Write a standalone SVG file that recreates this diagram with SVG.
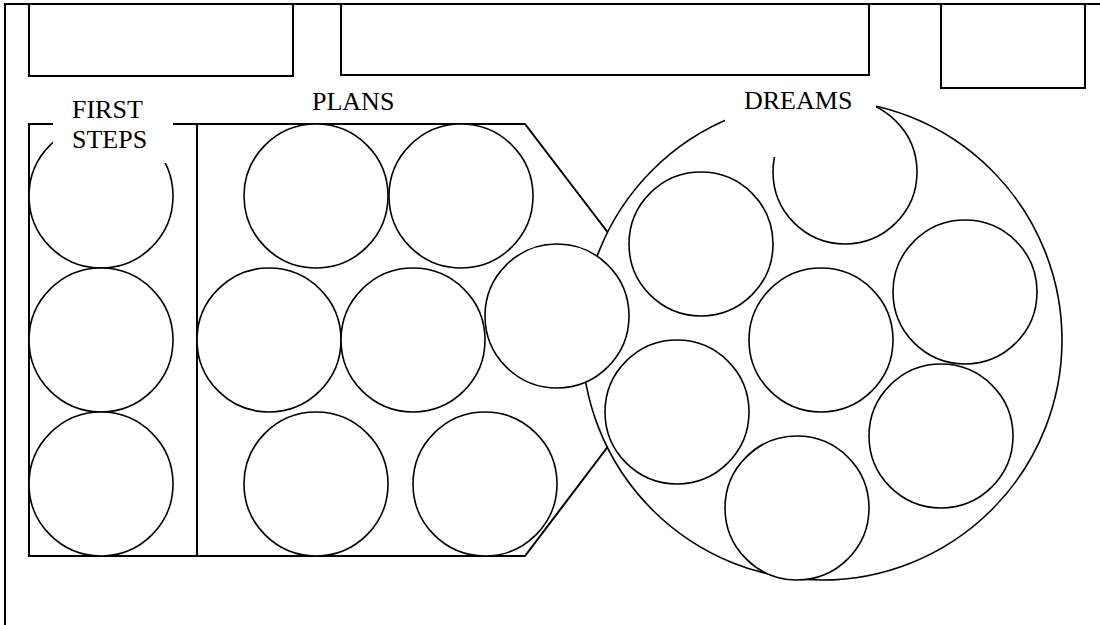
<svg xmlns="http://www.w3.org/2000/svg" width="1100" height="625" viewBox="0 0 1100 625">
<style>
.box{fill:#fff;stroke:#000;stroke-width:2}
.c{fill:#fff;stroke:#000;stroke-width:1.6}
.lbl{font-family:"Liberation Serif","Times New Roman",serif;font-size:26px;fill:#000}
.mask{fill:#fff;stroke:none}
</style>
<rect x="0" y="0" width="1100" height="625" fill="#fff"/>
<g id="frame">
<path d="M5,625 V4 H1100" fill="none" stroke="#000" stroke-width="2"/>
</g>
<g id="top-boxes">
<rect id="box1" class="box" x="29" y="4" width="264" height="72"/>
<rect id="box2" class="box" x="341" y="4" width="528" height="71"/>
<rect id="box3" class="box" x="941" y="4" width="144" height="84"/>
</g>
<g id="first-steps">
<rect class="box" x="29" y="124" width="168" height="432"/>
<circle class="c" cx="101" cy="196" r="72"/>
<circle class="c" cx="101" cy="340" r="72"/>
<circle class="c" cx="101" cy="484" r="72"/>
</g>
<g id="plans">
<path class="box" d="M197,124 H525 L625,255 V424 L525,556 H197 Z"/>
</g>
<g id="dreams">
<circle class="c" cx="822" cy="340" r="240"/>
<circle class="c" cx="845" cy="172" r="72"/>
<circle class="c" cx="701" cy="244" r="72"/>
<circle class="c" cx="821" cy="340" r="72"/>
<circle class="c" cx="965" cy="292" r="72"/>
<circle class="c" cx="677" cy="412" r="72"/>
<circle class="c" cx="941" cy="436" r="72"/>
<circle class="c" cx="797" cy="508" r="72"/>
</g>
<g id="plans-circles">
<circle class="c" cx="316" cy="196" r="72"/>
<circle class="c" cx="461" cy="196" r="72"/>
<circle class="c" cx="269" cy="340" r="72"/>
<circle class="c" cx="413" cy="340" r="72"/>
<circle class="c" cx="557" cy="316" r="72"/>
<circle class="c" cx="316" cy="484" r="72"/>
<circle class="c" cx="485" cy="484" r="72"/>
</g>
<g id="connectors"/>
<g id="labels">
<g id="label-first-steps">
<rect class="mask" x="53" y="90" width="120" height="73"/>
<text class="lbl" x="72" y="118">FIRST</text>
<text class="lbl" x="72" y="148">STEPS</text>
</g>
<g id="label-plans">
<text class="lbl" x="312" y="110">PLANS</text>
</g>
<g id="label-dreams">
<rect class="mask" x="725" y="80" width="151" height="77"/>
<text class="lbl" x="744" y="109">DREAMS</text>
</g>
</g>
</svg>
